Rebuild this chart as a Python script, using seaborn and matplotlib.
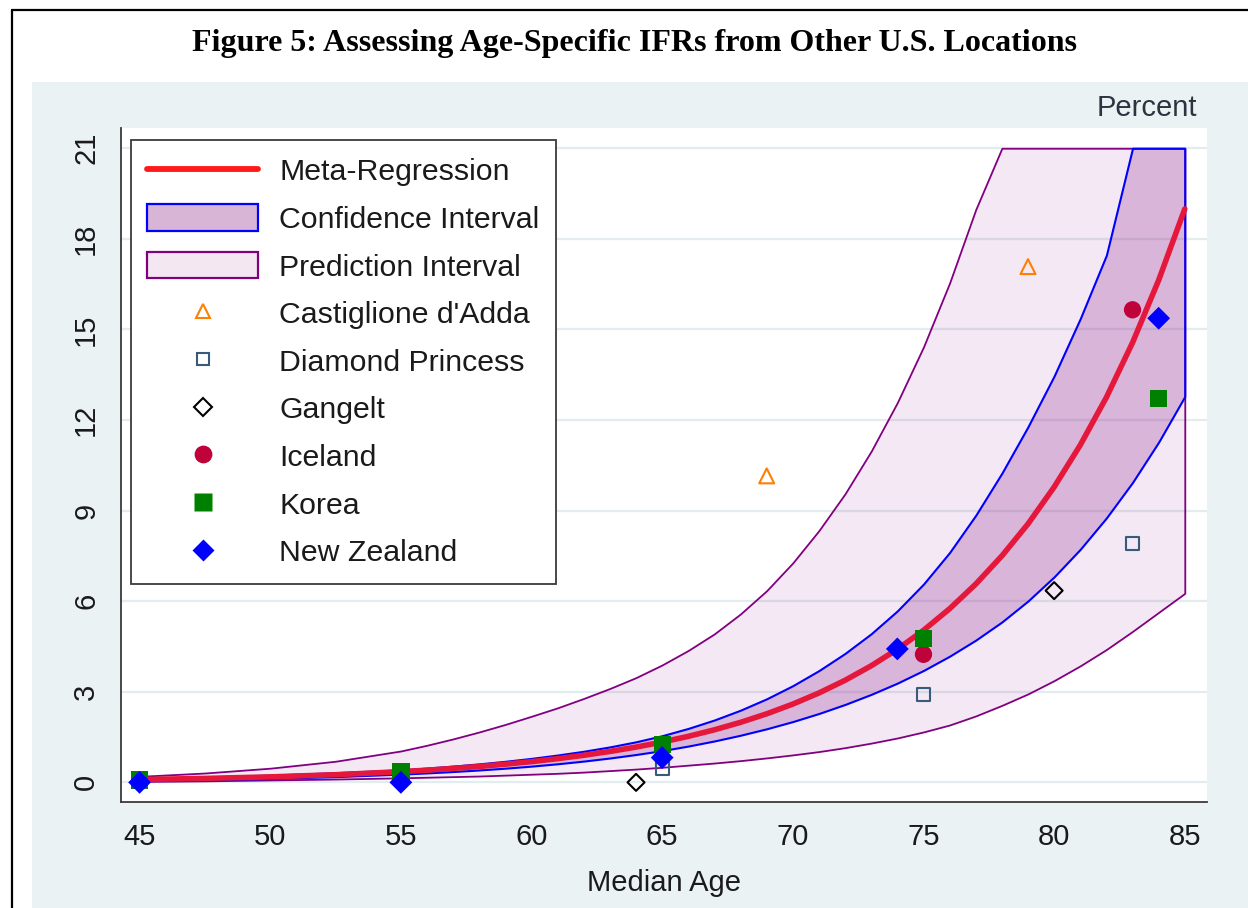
import matplotlib
matplotlib.use("Agg")
import matplotlib.pyplot as plt
import seaborn as sns
import pandas as pd
from matplotlib.lines import Line2D
from matplotlib.patches import Patch, Rectangle

# ---------------- data ----------------
ages = [45, 47.5, 50, 52.5, 55, 56, 57, 58, 59, 60, 61, 62, 63, 64, 65, 66, 67, 68, 69, 70,
        71, 72, 73, 74, 75, 76, 77, 78, 79, 80, 81, 82, 83, 84, 85]
meta_fit = [0.094, 0.131, 0.182, 0.254, 0.354, 0.404, 0.462, 0.527, 0.602, 0.687, 0.785,
            0.897, 1.024, 1.169, 1.335, 1.524, 1.741, 1.988, 2.270, 2.593, 2.961, 3.381,
            3.861, 4.409, 5.035, 5.75, 6.566, 7.50, 8.56, 9.78, 11.17, 12.75, 14.56, 16.63,
            18.99]
ci_upper = [0.13, 0.18, 0.24, 0.32, 0.415, 0.473, 0.539, 0.613, 0.698, 0.795, 0.906, 1.031,
            1.175, 1.344, 1.546, 1.788, 2.067, 2.392, 2.768, 3.203, 3.703, 4.272, 4.923, 5.68,
            6.567, 7.614, 8.846, 10.24, 11.78, 13.46, 15.36, 17.46, 21.0, 21.0, 21.0]
ci_lower = [0.06, 0.09, 0.13, 0.19, 0.274, 0.313, 0.359, 0.411, 0.470, 0.538, 0.616, 0.705,
            0.807, 0.923, 1.053, 1.203, 1.372, 1.562, 1.775, 2.014, 2.282, 2.581, 2.915, 3.287,
            3.706, 4.179, 4.711, 5.312, 6.008, 6.807, 7.72, 8.758, 9.934, 11.27, 12.78]
pi_upper = [0.20, 0.31, 0.47, 0.70, 1.04, 1.23, 1.44, 1.67, 1.92, 2.19, 2.47, 2.78, 3.11, 3.47,
            3.89, 4.37, 4.92, 5.58, 6.35, 7.27, 8.34, 9.56, 10.97, 12.58, 14.42, 16.54, 18.97,
            21.0, 21.0, 21.0, 21.0, 21.0, 21.0, 21.0, 21.0]
pi_lower = [0.03, 0.05, 0.08, 0.11, 0.15, 0.17, 0.19, 0.21, 0.24, 0.27, 0.30, 0.34, 0.39, 0.44,
            0.50, 0.57, 0.64, 0.72, 0.81, 0.91, 1.02, 1.15, 1.30, 1.47, 1.67, 1.90, 2.20, 2.55,
            2.93, 3.37, 3.86, 4.40, 5.00, 5.63, 6.26]

castiglione_age = [69, 79]
castiglione_ifr = [10.15, 17.08]
diamond_age = [65, 75, 83]
diamond_ifr = [0.47, 2.92, 7.90]
gangelt_age = [64, 80]
gangelt_ifr = [0.0, 6.35]
iceland_age = [75, 83]
iceland_ifr = [4.24, 15.65]
korea_age = [45, 55, 65, 75, 84]
korea_ifr = [0.08, 0.36, 1.26, 4.77, 12.72]
nz_age = [45, 55, 65, 74, 84]
nz_ifr = [0.0, 0.0, 0.82, 4.42, 15.37]

x_ticks = [45, 50, 55, 60, 65, 70, 75, 80, 85]
y_ticks = [0, 3, 6, 9, 12, 15, 18, 21]

title = "Figure 5: Assessing Age-Specific IFRs from Other U.S. Locations"
labels = ["Meta-Regression", "Confidence Interval", "Prediction Interval",
          "Castiglione d'Adda", "Diamond Princess", "Gangelt", "Iceland",
          "Korea", "New Zealand"]

# ---------------- style ----------------
sns.set_style("white")
plt.rcParams["font.family"] = ["Liberation Sans", "DejaVu Sans"]

W, H = 1248, 908
fig = plt.figure(figsize=(W / 100, H / 100), dpi=100)
fig.patch.set_facecolor("white")

# outer graph region and frame
fig.add_artist(Rectangle((32 / W, 0), 1 - 32 / W, 1 - 82 / H, transform=fig.transFigure,
                         facecolor="#EAF2F3", edgecolor="none", zorder=-2))
fig.add_artist(Line2D([12 / W, 1], [1 - 10 / H, 1 - 10 / H], transform=fig.transFigure,
                      color="black", lw=1.6))
fig.add_artist(Line2D([12 / W, 12 / W], [0, 1 - 10 / H], transform=fig.transFigure,
                      color="black", lw=1.6))

fig.text(634 / W, 1 - 43 / H, title, ha="center", va="center", fontsize=23,
         fontweight="bold", family="Liberation Serif", color="black")

ax = fig.add_axes([121 / W, 1 - 802 / H, (1207 - 121) / W, (802 - 128) / H])
ax.set_facecolor("white")

PURPLE = "#800080"
BLUE = "#0000FF"
RED = "#E5173A"

ax.fill_between(ages, pi_lower, pi_upper, facecolor=(0.5, 0.0, 0.5, 0.09),
                edgecolor=PURPLE, linewidth=1.3, zorder=2)
ax.fill_between(ages, ci_lower, ci_upper, facecolor=(0.5, 0.0, 0.5, 0.22),
                edgecolor=BLUE, linewidth=1.5, zorder=3)
sns.lineplot(x=ages, y=meta_fit, color=RED, linewidth=4.0, ax=ax, zorder=4,
             errorbar=None, sort=False)

def pts(a, v):
    return pd.DataFrame({"age": a, "ifr": v})

sns.scatterplot(data=pts(castiglione_age, castiglione_ifr), x="age", y="ifr", ax=ax,
                marker="^", s=115, color="#FF7F00", facecolor="none", edgecolor="#FF7F00",
                linewidth=1.5, zorder=5)
sns.scatterplot(data=pts(diamond_age, diamond_ifr), x="age", y="ifr", ax=ax,
                marker="s", s=85, color="#385A7C", facecolor="none", edgecolor="#385A7C",
                linewidth=1.5, zorder=5)
sns.scatterplot(data=pts(gangelt_age, gangelt_ifr), x="age", y="ifr", ax=ax,
                marker="D", s=75, color="black", facecolor="none", edgecolor="black",
                linewidth=1.5, zorder=5)
sns.scatterplot(data=pts(iceland_age, iceland_ifr), x="age", y="ifr", ax=ax,
                marker="o", s=155, color="#C0023A", edgecolor="none", linewidth=0, zorder=5)
sns.scatterplot(data=pts(korea_age, korea_ifr), x="age", y="ifr", ax=ax,
                marker="s", s=155, color="#008000", edgecolor="none", linewidth=0, zorder=5)
sns.scatterplot(data=pts(nz_age, nz_ifr), x="age", y="ifr", ax=ax,
                marker="D", s=135, color="#0000FF", edgecolor="none", linewidth=0, zorder=5)

ax.set_xlim(44.29, 85.85)
ax.set_ylim(-0.65, 21.67)
ax.set_xticks(x_ticks)
ax.set_yticks(y_ticks)
ax.set_yticklabels([str(t) for t in y_ticks], rotation=90, va="center")
ax.grid(axis="y", color="#E3ECEE", linewidth=1.6, zorder=0)
ax.grid(axis="x", visible=False)
ax.set_axisbelow(True)
for side in ["top", "right"]:
    ax.spines[side].set_visible(False)
for side in ["left", "bottom"]:
    ax.spines[side].set_color("#3A3A3A")
    ax.spines[side].set_linewidth(1.3)
ax.tick_params(axis="both", direction="out", length=8, width=1.3, color="#3A3A3A",
               labelsize=21, labelcolor="#1A1A1A", pad=7)
ax.set_xlabel("Median Age", fontsize=21, color="#1A1A1A", labelpad=13)
ax.set_ylabel("")

fig.text(1197 / W, 1 - 108 / H, "Percent", ha="right", va="center", fontsize=21,
         color="#2B3440")

handles = [
    Line2D([0], [0], color="#FF1A1A", linewidth=4.2),
    Patch(facecolor="#D8B4D6", edgecolor=BLUE, linewidth=1.6),
    Patch(facecolor="#F3E8F2", edgecolor=PURPLE, linewidth=1.6),
    Line2D([0], [0], marker="^", linestyle="none", markersize=10.5, markerfacecolor="none",
           markeredgecolor="#FF7F00", markeredgewidth=1.5),
    Line2D([0], [0], marker="s", linestyle="none", markersize=9, markerfacecolor="none",
           markeredgecolor="#385A7C", markeredgewidth=1.5),
    Line2D([0], [0], marker="D", linestyle="none", markersize=8.8, markerfacecolor="none",
           markeredgecolor="black", markeredgewidth=1.5),
    Line2D([0], [0], marker="o", linestyle="none", markersize=12.8, markerfacecolor="#C0023A",
           markeredgecolor="none"),
    Line2D([0], [0], marker="s", linestyle="none", markersize=12.5, markerfacecolor="#008000",
           markeredgecolor="none"),
    Line2D([0], [0], marker="D", linestyle="none", markersize=11.5, markerfacecolor="#0000FF",
           markeredgecolor="none"),
]
leg = ax.legend(handles=handles, labels=labels, loc="upper left",
                bbox_to_anchor=(0.009, 0.982), borderaxespad=0, fontsize=21.8,
                frameon=True, fancybox=False, framealpha=1, edgecolor="#3A3A3A",
                handlelength=3.66, handleheight=0.95, handletextpad=0.7,
                labelspacing=0.6, borderpad=0.55)
leg.get_frame().set_linewidth(1.3)
for t in leg.get_texts():
    t.set_color("#1A1A1A")

fig.savefig("out.png", dpi=100)
